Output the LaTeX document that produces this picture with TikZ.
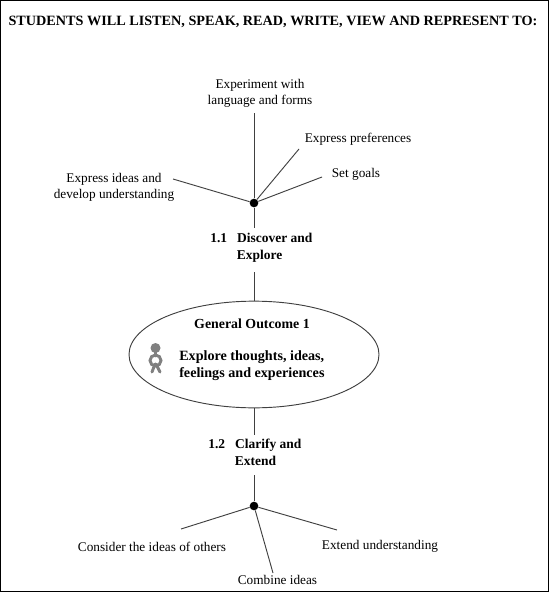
\documentclass[tikz,border=0pt]{standalone}
\usepackage{fontspec}
\setmainfont{Liberation Serif}
\usetikzlibrary{shapes.geometric, positioning}

\begin{document}
\begin{tikzpicture}[x=0.75pt, y=-0.75pt,
  leaf/.style={align=center, inner sep=0pt, font=\fontsize{9.95}{12.2}\selectfont},
  stage/.style={align=left, inner sep=0pt, font=\fontsize{10.1}{12.5}\selectfont\bfseries},
  hub/.style={circle, fill=black, inner sep=0pt, minimum size=6.5pt},
  link/.style={draw=black!75, line width=0.7pt},
  figpart/.style={draw=black!50, line width=2.2pt, line cap=round}]
  \useasboundingbox (0,0) rectangle (549,592);
  \draw[line width=1.1pt] (0,0) rectangle (549,592);
  \node[inner sep=0pt, font=\fontsize{10.65}{12}\selectfont\bfseries] (title) at (273,22) {STUDENTS WILL LISTEN, SPEAK, READ, WRITE, VIEW AND REPRESENT TO:};
  % Upper branch
  \node[hub] (hubtop) at (254,203) {};
  \node[leaf] (experiment) at (260,93.5) {Experiment with\\language and forms};
  \node[leaf] (preferences) at (358,139) {Express preferences};
  \node[leaf] (goals) at (356,174) {Set goals};
  \node[leaf] (ideas) at (114,187.5) {Express ideas and\\develop understanding};
  \node[stage, anchor=north west] (discover) at (210,233) {1.1\hspace{7.6pt}Discover and\\\hspace{20pt}Explore};
  \coordinate (experimentend) at (254,113);
  \coordinate (preferencesend) at (299,149);
  \coordinate (goalsend) at (322,177);
  \coordinate (ideasend) at (173,179);
  \coordinate (discoverend) at (254,228);
  \coordinate (discoverout) at (254,272);
  \draw[link] (hubtop) -- (experimentend);
  \draw[link] (hubtop) -- (preferencesend);
  \draw[link] (hubtop) -- (goalsend);
  \draw[link] (hubtop) -- (ideasend);
  \draw[link] (hubtop) -- (discoverend);
  % Outcome
  \node[ellipse, draw=black!75, line width=0.7pt, minimum width=187.5pt, minimum height=80pt, inner sep=0pt] (outcome) at (254,354.5) {};
  \node[inner sep=0pt, font=\fontsize{10.4}{12}\selectfont\bfseries] (outcometitle) at (252,323.5) {General Outcome 1};
  \node[inner sep=0pt, align=left, anchor=north west, font=\fontsize{10.6}{12.75}\selectfont\bfseries] (outcometext) at (179,350.5) {Explore thoughts, ideas,\\feelings and experiences};
  \draw[link] (discoverout) -- (outcome);
  % Person
  \fill[black!50] (155.5,348) circle (5);
  \draw[figpart] (155.5,351) -- (155.5,356);
  \draw[figpart] (155.5,360.5) circle (5.5);
  \draw[figpart] (155,364) -- (152,372);
  \draw[figpart] (156,364) -- (160,372);
  % Lower branch
  \node[stage, anchor=north west] (clarify) at (208,439) {1.2\hspace{7.6pt}Clarify and\\\hspace{20pt}Extend};
  \node[hub] (hubbottom) at (254,506) {};
  \node[leaf] (consider) at (152,547) {Consider the ideas of others};
  \node[leaf] (extend) at (380,546.5) {Extend understanding};
  \node[leaf] (combine) at (277.5,579.5) {Combine ideas};
  \coordinate (clarifyend) at (254,435);
  \coordinate (clarifyout) at (254,475);
  \coordinate (considerend) at (181,529);
  \coordinate (extendend) at (337,530);
  \coordinate (combineend) at (273,573);
  \draw[link] (outcome) -- (clarifyend);
  \draw[link] (clarifyout) -- (hubbottom);
  \draw[link] (hubbottom) -- (considerend);
  \draw[link] (hubbottom) -- (extendend);
  \draw[link] (hubbottom) -- (combineend);
\end{tikzpicture}
\end{document}
